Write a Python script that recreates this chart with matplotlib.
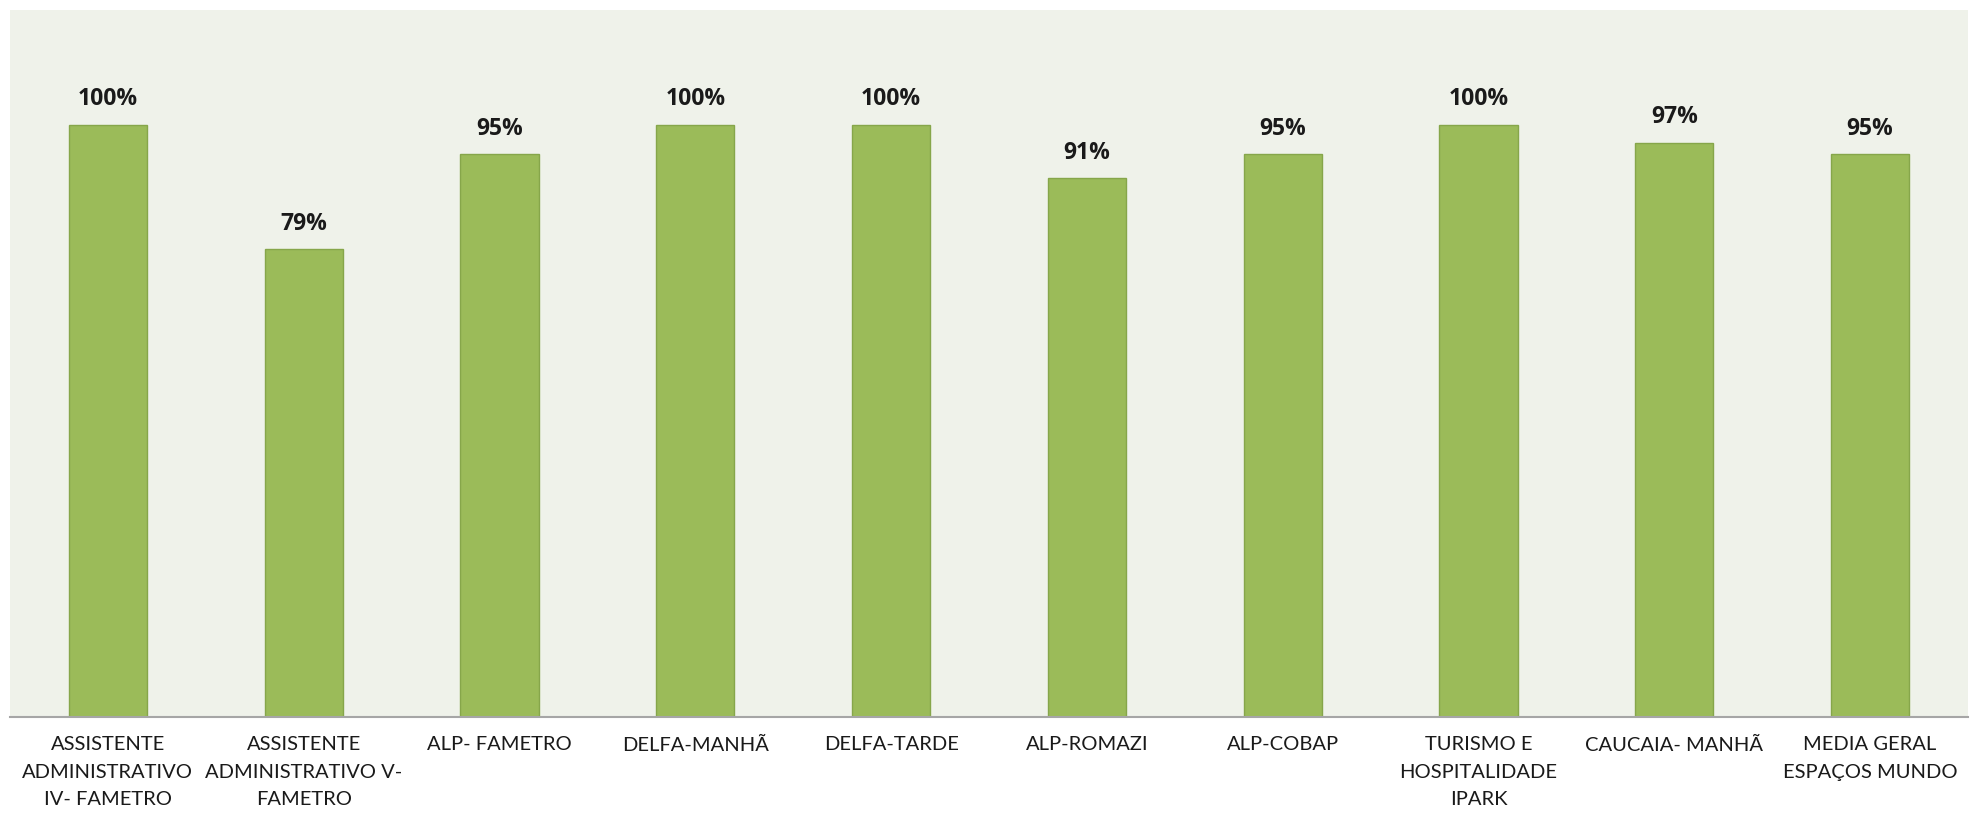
import matplotlib.pyplot as plt

# Turmas e percentuais
turmas = [
    "ASSISTENTE\nADMINISTRATIVO\nIV- FAMETRO",
    "ASSISTENTE\nADMINISTRATIVO V-\nFAMETRO",
    "ALP- FAMETRO",
    "DELFA-MANHÃ",
    "DELFA-TARDE",
    "ALP-ROMAZI",
    "ALP-COBAP",
    "TURISMO E\nHOSPITALIDADE\nIPARK",
    "CAUCAIA- MANHÃ",
    "MEDIA GERAL\nESPAÇOS MUNDO",
]
percentuais = [100, 79, 95, 100, 100, 91, 95, 100, 97, 95]

plt.rcParams['font.family'] = ['Lato', 'DejaVu Sans']

fig = plt.figure(figsize=(19.79, 8.15), dpi=100)
ax = fig.add_axes([10 / 1979, 1 - 717 / 815, 1958 / 1979, (717 - 10) / 815])
ax.set_facecolor('#EFF2EA')

x = range(len(turmas))
bars = ax.bar(x, percentuais, width=0.40, color='#9BBB59', edgecolor='#86A64A', linewidth=1)

for b, v in zip(bars, percentuais):
    ax.text(b.get_x() + b.get_width() / 2, v + 2.3, f"{v}%", ha='center', va='bottom',
            fontsize=16.5, fontweight='bold', color='#1a1a1a', family=['Open Sans', 'DejaVu Sans'])

ax.set_xlim(-0.5, len(turmas) - 0.5)
ax.set_ylim(0, 119.4)
ax.set_xticks(list(x))
ax.set_xticklabels(turmas, fontsize=14.5, color='#1a1a1a', linespacing=1.75)
ax.tick_params(axis='x', length=0, pad=14)
ax.set_yticks([])
for s in ['top', 'right', 'left']:
    ax.spines[s].set_visible(False)
ax.spines['bottom'].set_color('#A6A6A6')
ax.spines['bottom'].set_linewidth(1.5)

fig.savefig('out.png', dpi=100, facecolor='white')
